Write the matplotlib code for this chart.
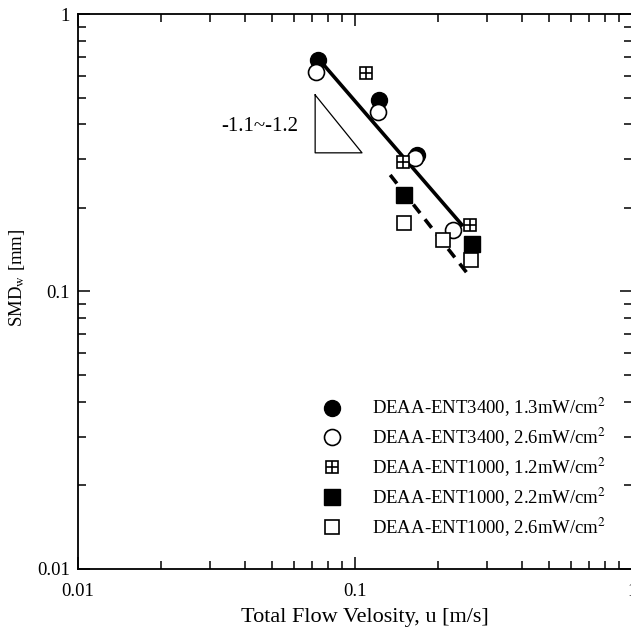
import matplotlib.pyplot as plt
from matplotlib.ticker import FixedLocator, LogLocator, NullFormatter, FuncFormatter
from matplotlib.legend_handler import HandlerTuple

plt.rcParams['font.family'] = ['Liberation Serif', 'DejaVu Serif']
plt.rcParams['mathtext.fontset'] = 'stix'

# data
u_3400_13 = [0.0734, 0.122, 0.1675]
d_3400_13 = [0.683, 0.490, 0.310]
u_3400_26 = [0.0723, 0.121, 0.165, 0.226]
d_3400_26 = [0.618, 0.443, 0.303, 0.167]
u_1000_12 = [0.110, 0.149, 0.260]
d_1000_12 = [0.613, 0.293, 0.174]
u_1000_22 = [0.150, 0.264]
d_1000_22 = [0.223, 0.148]
u_1000_26 = [0.150, 0.208, 0.262]
d_1000_26 = [0.177, 0.153, 0.130]

fit_solid_u = [0.0734, 0.243]
fit_solid_d = [0.694, 0.174]
fit_dash_u = [0.134, 0.260]
fit_dash_d = [0.263, 0.113]

tri_u = [0.0718, 0.0718, 0.106, 0.0718]
tri_d = [0.511, 0.316, 0.316, 0.511]

labels = ['DEAA-ENT3400, 1.3mW/cm$^2$',
          'DEAA-ENT3400, 2.6mW/cm$^2$',
          'DEAA-ENT1000, 1.2mW/cm$^2$',
          'DEAA-ENT1000, 2.2mW/cm$^2$',
          'DEAA-ENT1000, 2.6mW/cm$^2$']

fig = plt.figure(figsize=(6.31, 6.31), dpi=100)
ax = fig.add_axes([0.1236, 0.0983, 0.878, 0.8795])
ax.set_xscale('log')
ax.set_yscale('log')
ax.set_xlim(0.01, 1)
ax.set_ylim(0.01, 1)

# fit lines
ax.plot(fit_solid_u, fit_solid_d, color='black', lw=2.6, zorder=2)
ax.plot(fit_dash_u, fit_dash_d, color='black', lw=2.6, ls=(0, (3, 2.2)), zorder=2)

# slope triangle
ax.plot(tri_u, tri_d, color='black', lw=0.9)
ax.text(0.0622, 0.392, '-1.1~-1.2', ha='right', va='center', fontsize=15)

h1, = ax.plot(u_3400_13, d_3400_13, 'o', ms=11.5, mfc='black', mec='black', zorder=3)
h2, = ax.plot(u_3400_26, d_3400_26, 'o', ms=11.5, mfc='white', mec='black', mew=1.2, zorder=4)
h3a, = ax.plot(u_1000_12, d_1000_12, 's', ms=8.8, mfc='white', mec='black', mew=1.2, zorder=4)
h3b, = ax.plot(u_1000_12, d_1000_12, '+', ms=8.8, mec='black', mew=1.2, zorder=5)
h4, = ax.plot(u_1000_22, d_1000_22, 's', ms=11, mfc='black', mec='black', zorder=4)
h5, = ax.plot(u_1000_26, d_1000_26, 's', ms=10.5, mfc='white', mec='black', mew=1.2, zorder=4)

ax.legend([h1, h2, (h3a, h3b), h4, h5], labels,
          handler_map={tuple: HandlerTuple(ndivide=1, pad=0)},
          loc='upper left', bbox_to_anchor=(0.4415, 0.3117), frameon=False,
          fontsize=13.5, handlelength=1.0, handletextpad=1.63, labelspacing=0.36,
          borderpad=0, borderaxespad=0)

fmt = FuncFormatter(lambda v, p: '%g' % v)
for axis in (ax.xaxis, ax.yaxis):
    axis.set_major_locator(FixedLocator([0.01, 0.1, 1]))
    axis.set_major_formatter(fmt)
    axis.set_minor_locator(LogLocator(base=10, subs=range(2, 10)))
    axis.set_minor_formatter(NullFormatter())

ax.tick_params(which='both', direction='in', top=True, right=True, labelsize=13.5, width=1.1)
ax.tick_params(which='major', length=8.5)
ax.tick_params(axis='x', which='major', pad=10)
ax.tick_params(axis='y', which='major', pad=6)
ax.tick_params(which='minor', length=5.5)
for s in ax.spines.values():
    s.set_linewidth(1.3)

ax.set_xlabel('Total Flow Velosity, u [m/s]', fontsize=16)
ax.set_ylabel(r'SMD$_\mathrm{w}$ [mm]', fontsize=13.5)
ax.xaxis.set_label_coords(0.518, -0.07)
ax.yaxis.set_label_coords(-0.092, 0.524)

fig.savefig('out.png', dpi=100)
